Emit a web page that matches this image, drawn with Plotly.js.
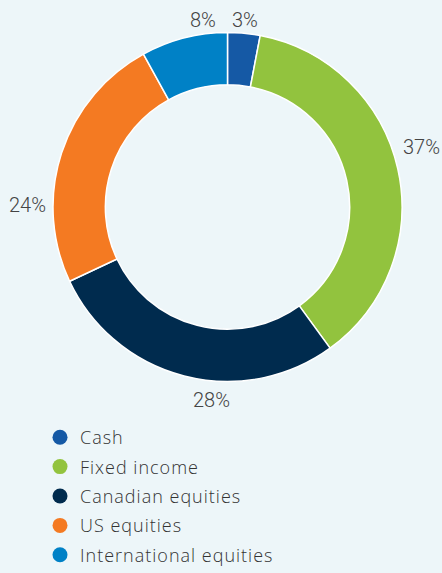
<!DOCTYPE html>
<html>
<head>
<meta charset="utf-8">
<script src="https://cdn.plot.ly/plotly-3.0.1.min.js"></script>
<style>
html,body{margin:0;padding:0;background:#edf6f9;}
#chart{width:442px;height:573px;}
.legendtext{letter-spacing:1px;}
</style>
</head>
<body>
<div id="chart"></div>
<script>
const categories = ["Cash", "Fixed income", "Canadian equities", "US equities", "International equities"];
const values = [3, 37, 28, 24, 8];
const colors = ["#1559a5", "#92c33e", "#002b4e", "#f47a22", "#0081c6"];

// label placement (pixels in the 442x573 figure), layout only
const labelPos = [[245, 19], [421, 146], [211, 399], [27.5, 204], [203, 19]];
const W = 442, H = 573;

const pie = {
  type: "pie",
  labels: categories,
  values: values,
  sort: false,
  direction: "clockwise",
  rotation: 0,
  hole: 0.7,
  marker: {colors: colors, line: {color: "#ffffff", width: 1.5}},
  textinfo: "none",
  showlegend: false,
  domain: {x: [53/W, 402/W], y: [1 - 382/H, 1 - 32/H]}
};

const legendTraces = categories.map((c, i) => ({
  type: "scatter",
  mode: "markers",
  x: [null], y: [null],
  name: c,
  legendgroup: "g" + i,
  marker: {symbol: "circle", size: 15, color: colors[i]},
  showlegend: true
}));

const annotations = values.map((v, i) => ({
  xref: "paper", yref: "paper",
  x: labelPos[i][0] / W, y: 1 - (labelPos[i][1] + 1) / H,
  xanchor: "center", yanchor: "middle",
  text: v + "%",
  showarrow: false,
  font: {family: "Roboto, sans-serif", size: 20, weight: 300, color: "#444"}
}));

const layout = {
  width: W, height: H,
  margin: {l: 0, r: 0, t: 0, b: 0, autoexpand: false},
  paper_bgcolor: "#edf6f9",
  plot_bgcolor: "#edf6f9",
  xaxis: {visible: false},
  yaxis: {visible: false},
  showlegend: true,
  annotations: annotations,
  legend: {
    x: 40/W, xanchor: "left",
    y: 1 - 419/H, yanchor: "top",
    font: {family: "Open Sans, sans-serif", size: 18, weight: 300, color: "#333"},
    tracegroupgap: 3,
    bgcolor: "rgba(0,0,0,0)",
    itemclick: false
  }
};

Plotly.newPlot("chart", [pie, ...legendTraces], layout, {displayModeBar: false, staticPlot: true});
</script>
</body>
</html>
